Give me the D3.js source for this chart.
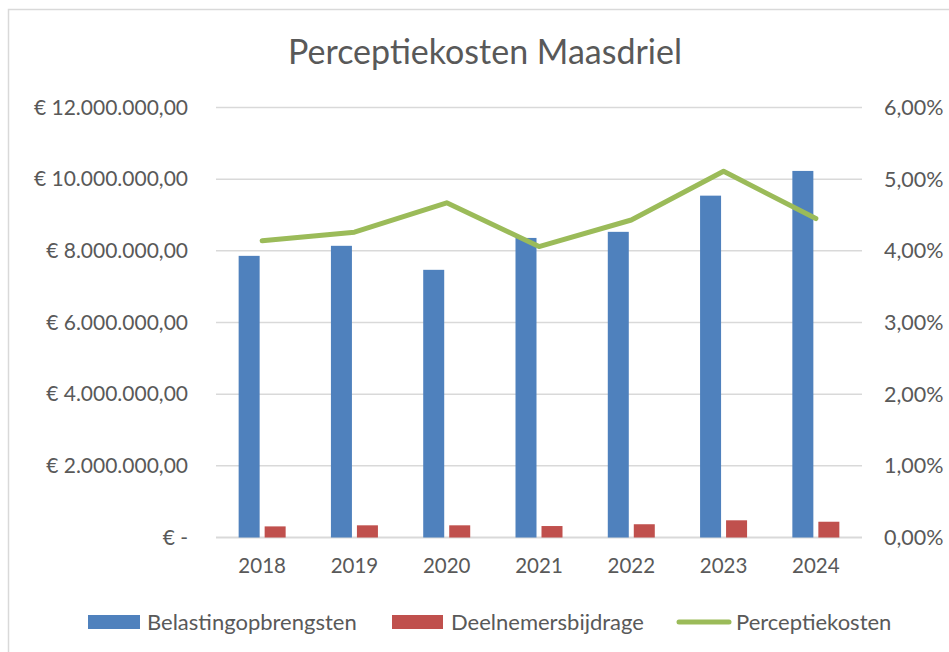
<!DOCTYPE html>
<html>
<head>
<meta charset="utf-8">
<script src="https://cdn.jsdelivr.net/npm/d3@7"></script>
<style>
  body { margin: 0; background: #fff; }
  svg text { font-family: Lato, "Open Sans", sans-serif; fill: #595959; }
</style>
</head>
<body>
<svg id="chart" width="949" height="652"></svg>
<script>
// data
var years = ["2018", "2019", "2020", "2021", "2022", "2023", "2024"];
var belasting = [7860000, 8140000, 7470000, 8360000, 8530000, 9540000, 10230000];
var deelnemers = [310000, 340000, 340000, 320000, 370000, 480000, 440000];
var perceptie = [0.0414, 0.0426, 0.0467, 0.0406, 0.0443, 0.0511, 0.0445];
var leftTicks = [0, 2000000, 4000000, 6000000, 8000000, 10000000, 12000000];
var rightTicks = [0, 0.01, 0.02, 0.03, 0.04, 0.05, 0.06];
var seriesNames = ["Belastingopbrengsten", "Deelnemersbijdrage", "Perceptiekosten"];

var blue = "#4f81bd", red = "#c0504d", green = "#9bbb59";

var svg = d3.select("#chart");

// outer chart border (right and bottom sit outside the picture)
svg.append("rect")
    .attr("x", 8.5).attr("y", 9.5)
    .attr("width", 960).attr("height", 660)
    .attr("fill", "none")
    .attr("stroke", "#d9d9d9")
    .attr("stroke-width", 1.5);

var margin = { left: 216, right: 862, top: 107.5, bottom: 537.5 };

var x = d3.scaleBand()
    .domain(years)
    .range([margin.left, margin.right]);

var y = d3.scaleLinear()
    .domain([0, 12000000])
    .range([margin.bottom, margin.top]);

var y2 = d3.scaleLinear()
    .domain([0, 0.06])
    .range([margin.bottom, margin.top]);

// title
svg.append("text")
    .attr("x", 485).attr("y", 64)
    .attr("text-anchor", "middle")
    .style("font-size", "34px")
    .text("Perceptiekosten Maasdriel");

// gridlines
svg.append("g")
    .selectAll("line")
    .data(leftTicks)
    .enter().append("line")
    .attr("x1", margin.left).attr("x2", margin.right)
    .attr("y1", function (d) { return y(d); })
    .attr("y2", function (d) { return y(d); })
    .attr("stroke", "#d9d9d9")
    .attr("stroke-width", function (d) { return d === 0 ? 2 : 1.5; });

var euro = d3.formatLocale({ decimal: ",", thousands: ".", grouping: [3], currency: ["€ ", ""] });

// left axis
var yAxis = d3.axisLeft(y)
    .tickValues(leftTicks)
    .tickSize(0)
    .tickPadding(0)
    .tickFormat(function (d) { return d === 0 ? "€ -" : euro.format("$,.2f")(d); });

svg.append("g")
    .attr("transform", "translate(188,0)")
    .call(yAxis)
    .call(function (g) { g.select(".domain").remove(); })
    .selectAll("text")
    .style("font-size", "21px")
    .attr("fill", null);

// right axis
var pct = d3.formatLocale({ decimal: ",", thousands: ".", grouping: [3], currency: ["", ""] });
var y2Axis = d3.axisRight(y2)
    .tickValues(rightTicks)
    .tickSize(0)
    .tickPadding(0)
    .tickFormat(pct.format(".2%"));

svg.append("g")
    .attr("transform", "translate(884,0)")
    .call(y2Axis)
    .call(function (g) { g.select(".domain").remove(); })
    .selectAll("text")
    .style("font-size", "21.5px")
    .attr("fill", null);

// x axis labels
var xAxis = d3.axisBottom(x).tickSize(0).tickPadding(0);
svg.append("g")
    .attr("transform", "translate(0,558)")
    .call(xAxis)
    .call(function (g) { g.select(".domain").remove(); })
    .selectAll("text")
    .style("font-size", "20.5px")
    .attr("fill", null);

var barW = 21, gap = 5;

// bars
svg.append("g").selectAll("rect")
    .data(belasting)
    .enter().append("rect")
    .attr("x", function (d, i) { return x(years[i]) + x.bandwidth() / 2 - gap / 2 - barW; })
    .attr("y", function (d) { return y(d); })
    .attr("width", barW)
    .attr("height", function (d) { return y(0) - y(d); })
    .attr("fill", blue);

svg.append("g").selectAll("rect")
    .data(deelnemers)
    .enter().append("rect")
    .attr("x", function (d, i) { return x(years[i]) + x.bandwidth() / 2 + gap / 2; })
    .attr("y", function (d) { return y(d); })
    .attr("width", barW)
    .attr("height", function (d) { return y(0) - y(d); })
    .attr("fill", red);

// line
var line = d3.line()
    .x(function (d, i) { return x(years[i]) + x.bandwidth() / 2; })
    .y(function (d) { return y2(d); });

svg.append("path")
    .datum(perceptie)
    .attr("d", line)
    .attr("fill", "none")
    .attr("stroke", green)
    .attr("stroke-width", 5)
    .attr("stroke-linecap", "round")
    .attr("stroke-linejoin", "round");

// legend
var legend = svg.append("g").attr("transform", "translate(0,622)");
var legendX = [88, 392, 677];

legend.append("rect").attr("x", legendX[0]).attr("y", -7).attr("width", 52).attr("height", 14).attr("fill", blue);
legend.append("rect").attr("x", legendX[1]).attr("y", -7).attr("width", 51).attr("height", 14).attr("fill", red);
legend.append("line")
    .attr("x1", legendX[2] + 2).attr("x2", legendX[2] + 52)
    .attr("y1", 0).attr("y2", 0)
    .attr("stroke", green).attr("stroke-width", 5).attr("stroke-linecap", "round");

legend.selectAll("text")
    .data(seriesNames)
    .enter().append("text")
    .attr("x", function (d, i) { return legendX[i] + 59; })
    .attr("y", 0)
    .attr("dy", "0.35em")
    .style("font-size", "22px")
    .text(function (d) { return d; });
</script>
</body>
</html>
